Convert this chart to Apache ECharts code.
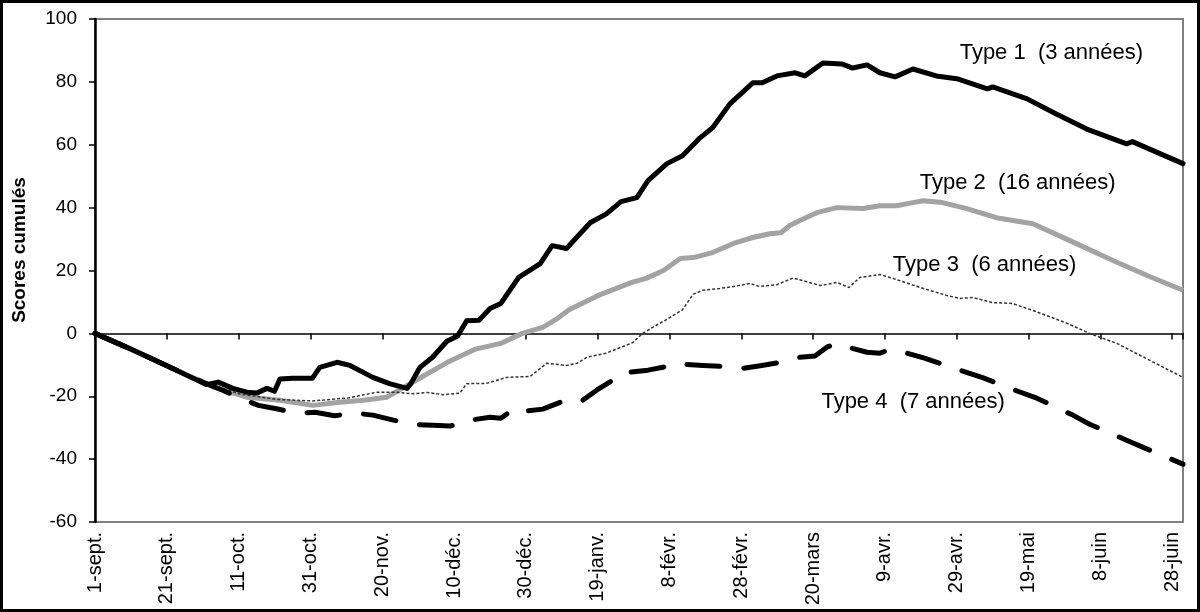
<!DOCTYPE html>
<html>
<head>
<meta charset="utf-8">
<script src="https://cdn.jsdelivr.net/npm/echarts@6/dist/echarts.min.js"></script>
<style>
	html, body { margin: 0; padding: 0; background: #fff; }
	#main { width: 1200px; height: 612px; }
</style>
</head>
<body>
<div id="main"></div>
<script>
	// jours comptés depuis le 1er septembre, une étiquette tous les 20 jours
	var tickLabels = ['1-sept.', '21-sept.', '11-oct.', '31-oct.', '20-nov.', '10-déc.', '30-déc.', '19-janv.',
		'8-févr.', '28-févr.', '20-mars', '9-avr.', '29-avr.', '19-mai', '8-juin', '28-juin'];
	var seriesNames = ['Type 1  (3 années)', 'Type 2  (16 années)', 'Type 3  (6 années)', 'Type 4  (7 années)'];

	// [jour, score cumulé]
	var type1 = [[0, 0], [10, -5], [20, -10.3], [31, -16.3], [34.3, -15.5], [38.4, -17.5], [42.3, -18.7], [45, -19],
		[47.9, -17.5], [50, -18.4], [51.5, -14.5], [55, -14.3], [60.5, -14.3], [62.6, -10.8], [67.4, -9.2], [71, -10.2],
		[77.4, -14], [82, -16], [86.9, -17.5], [88, -15.9], [90.5, -10.8], [94, -7.6], [98, -2.5], [101, -0.8],
		[103.5, 4], [107, 4.2], [110, 7.9], [113, 9.5], [118, 17.8], [124, 22.2], [127.3, 27.9], [131.3, 27],
		[137.9, 35.2], [142.4, 38], [146.5, 41.9], [150.9, 43.2], [154, 48.6], [159.3, 54], [163.6, 56.5],
		[168.5, 62.2], [172, 65.4], [176.8, 73], [183.2, 79.7], [185.8, 79.7], [189.9, 81.9], [195, 82.9],
		[197.7, 81.9], [202.7, 86], [208, 85.7], [211, 84.4], [215, 85.4], [218.6, 82.9], [222.8, 81.6],
		[227.8, 84.1], [234.3, 81.9], [240, 81], [248.5, 77.8], [250, 78.4], [259.6, 74.6], [267.7, 69.8],
		[276.2, 65], [287.3, 60.3], [288.9, 61], [303, 54]];

	var type2 = [[0, 0], [10, -5], [20, -10.3], [30, -15.5], [33, -17.1], [42.3, -20.3], [51.5, -21.3], [60.6, -22.9],
		[67.4, -22], [74.7, -21.3], [81.3, -20.3], [84.8, -18], [90.5, -14.2], [98, -9.3], [106, -5], [113, -3.2],
		[119, 0], [124.7, 1.9], [128.5, 4.5], [132, 7.5], [140, 12], [149.5, 16.2], [153.5, 17.5], [158.3, 20],
		[163, 23.8], [166.6, 24.1], [172, 25.7], [177.8, 28.6], [183.2, 30.5], [187.9, 31.7], [191, 32],
		[193.5, 34.3], [196.3, 35.9], [201, 38.4], [206.6, 40], [213.9, 39.7], [218.6, 40.6], [223.2, 40.6],
		[227.8, 41.6], [230.6, 42.2], [236, 41.6], [242.8, 39.7], [251, 36.8], [261.2, 34.9], [271.5, 29.5],
		[283.5, 23.2], [293, 18.4], [303, 13.7]];

	var type3 = [[0, 0], [10, -5], [20, -10.3], [30, -15.5], [40.4, -19.3], [50.5, -21], [60.6, -21.5], [70.7, -20.5],
		[78.5, -18.7], [83.8, -18.7], [88.6, -19.2], [92.5, -18.8], [97, -19.5], [101.6, -19], [103.5, -16],
		[109, -15.9], [114.7, -14], [121.2, -13.7], [125.8, -9.5], [131.3, -10.2], [134.3, -9.5], [137, -7.6],
		[142.4, -6.3], [149.8, -2.9], [152.5, 0], [155.3, 1.9], [159.3, 4.5], [163.6, 7.5], [166.6, 12.5],
		[169.3, 13.7], [174, 14.3], [177.8, 14.9], [182.4, 15.9], [185.1, 14.9], [189.9, 15.5], [194.4, 17.6],
		[198, 16.5], [202, 15.2], [206.6, 16.2], [210, 14.6], [213, 17.8], [218.6, 18.7], [222.2, 17.5],
		[229.8, 14.6], [237.4, 12], [240.9, 11.1], [244.4, 11.4], [250, 9.8], [255.5, 9.5], [261.2, 7.3],
		[267.7, 4.5], [270.7, 3.2], [277, 0], [284.6, -3.2], [293.8, -8.6], [303, -14]];

	var type4 = [[0, 0], [10, -5], [20, -10.3], [30, -15.5], [35.4, -18], [40.4, -20.6], [45.5, -22.9], [50.5, -24],
		[56.3, -25.4], [61.3, -25.1], [66.7, -26.2], [72.4, -25.4], [77.4, -26], [82.8, -27.5], [88.6, -29],
		[94, -29.2], [98.9, -29.5], [104.4, -27.6], [110, -26.7], [113, -27], [117, -23.8], [119.2, -24.8],
		[124.7, -24.1], [130.3, -21.6], [135.1, -21.9], [139.8, -18], [144.2, -14.9], [147, -14.3], [148.5, -12.4],
		[154, -11.7], [158.2, -10.8], [161, -9.5], [163.6, -9.8], [169.3, -10.2], [174.7, -10.5], [180.5, -11.1],
		[185.7, -10.2], [190.8, -9.2], [196.3, -7.6], [200.5, -7.2], [203.8, -4.4], [206.6, -3.2], [209.7, -4.4],
		[215, -6], [218.6, -6.3], [221.4, -5.1], [226.1, -6.3], [231, -7.9], [240.9, -11.7], [247, -14],
		[257, -18.4], [262.3, -20.6], [272.3, -26], [277, -28.9], [287.3, -34], [292.4, -36.5], [303, -41.6]];

	var font = '"Liberation Sans", Arial, sans-serif';

	function tag(text, coord) {
		return {
			symbol: 'circle',
			symbolSize: 0,
			silent: true,
			data: [{
				coord: coord,
				label: {
					show: true,
					position: 'right',
					distance: 0,
					formatter: text,
					color: '#000',
					fontFamily: font,
					fontSize: 22
				}
			}]
		};
	}

	var myChart = echarts.init(document.getElementById('main'), null, { renderer: 'canvas' });

	var option = {
		animation: false,
		backgroundColor: '#fff',
		grid: {
			left: 95,
			right: 17,
			top: 19,
			bottom: 90,
			show: true,
			borderColor: '#808080',
			borderWidth: 2,
			backgroundColor: 'transparent'
		},
		xAxis: [{
			// axe passant par zéro, avec graduations
			type: 'value',
			min: 0,
			max: 303,
			interval: 20,
			axisLine: { show: true, onZero: true, lineStyle: { color: '#000', width: 1.5 } },
			axisTick: { show: true, inside: false, length: 6, lineStyle: { color: '#000', width: 1.5 } },
			axisLabel: { show: false },
			splitLine: { show: false }
		}, {
			type: 'value',
			position: 'bottom',
			min: 0,
			max: 303,
			interval: 20,
			axisLine: { show: false, onZero: false },
			axisTick: { show: false },
			splitLine: { show: false },
			axisLabel: {
				show: true,
				rotate: 90,
				margin: 10,
				color: '#000',
				fontFamily: font,
				fontSize: 20,
				formatter: function(v) {
					if (v % 20 !== 0) return '';
					return tickLabels[v / 20] || '';
				}
			}
		}],
		yAxis: {
			type: 'value',
			min: -60,
			max: 100,
			interval: 20,
			axisLine: { show: true, onZero: false, lineStyle: { color: '#000', width: 2.5 } },
			axisTick: { show: true, inside: false, length: 6, lineStyle: { color: '#000', width: 1.5 } },
			axisLabel: { color: '#000', fontFamily: font, fontSize: 19, margin: 18 },
			splitLine: { show: false }
		},
		graphic: [{
			type: 'text',
			x: 20,
			y: 250,
			rotation: Math.PI / 2,
			style: {
				text: 'Scores cumulés',
				fill: '#000',
				font: 'bold 19px ' + font,
				textAlign: 'center',
				textVerticalAlign: 'middle'
			}
		}, {
			type: 'rect',
			shape: { x: 1.5, y: 1.5, width: 1197, height: 609 },
			style: { fill: 'none', stroke: '#000', lineWidth: 3 },
			silent: true
		}],
		series: [{
			name: seriesNames[1],
			type: 'line',
			data: type2,
			showSymbol: false,
			lineStyle: { color: '#a3a3a3', width: 5 },
			z: 2,
			markPoint: tag(seriesNames[1], [229.7, 48])
		}, {
			name: seriesNames[2],
			type: 'line',
			data: type3,
			showSymbol: false,
			lineStyle: { color: '#333', width: 1.5, type: [3, 2] },
			z: 3,
			markPoint: tag(seriesNames[2], [222.2, 21.8])
		}, {
			name: seriesNames[3],
			type: 'line',
			data: type4,
			showSymbol: false,
			lineStyle: { color: '#000', width: 5, type: [33, 24], cap: 'round', join: 'round' },
			z: 4,
			markPoint: tag(seriesNames[3], [202.3, -21.8])
		}, {
			name: seriesNames[0],
			type: 'line',
			data: type1,
			showSymbol: false,
			lineStyle: { color: '#000', width: 5, cap: 'round', join: 'round' },
			z: 5,
			markPoint: tag(seriesNames[0], [240.8, 89.2])
		}]
	};

	myChart.setOption(option);
</script>
</body>
</html>
